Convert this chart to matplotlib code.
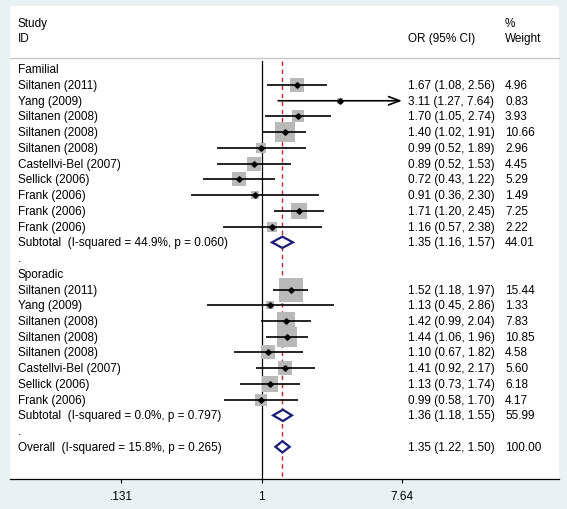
import matplotlib
matplotlib.use('Agg')
import matplotlib.pyplot as plt
import numpy as np
from matplotlib.patches import Polygon
from matplotlib.transforms import blended_transform_factory

plt.rcParams['font.family'] = ['Liberation Sans', 'DejaVu Sans']

# ---------------- data ----------------
fam_studies = ["Siltanen (2011)", "Yang (2009)", "Siltanen (2008)", "Siltanen (2008)",
               "Siltanen (2008)", "Castellvi-Bel (2007)", "Sellick (2006)",
               "Frank (2006)", "Frank (2006)", "Frank (2006)"]
fam_or = [1.67, 3.11, 1.70, 1.40, 0.99, 0.89, 0.72, 0.91, 1.71, 1.16]
fam_lo = [1.08, 1.27, 1.05, 1.02, 0.52, 0.52, 0.43, 0.36, 1.20, 0.57]
fam_hi = [2.56, 7.64, 2.74, 1.91, 1.89, 1.53, 1.22, 2.30, 2.45, 2.38]
fam_w = [4.96, 0.83, 3.93, 10.66, 2.96, 4.45, 5.29, 1.49, 7.25, 2.22]

spo_studies = ["Siltanen (2011)", "Yang (2009)", "Siltanen (2008)", "Siltanen (2008)",
               "Siltanen (2008)", "Castellvi-Bel (2007)", "Sellick (2006)", "Frank (2006)"]
spo_or = [1.52, 1.13, 1.42, 1.44, 1.10, 1.41, 1.13, 0.99]
spo_lo = [1.18, 0.45, 0.99, 1.06, 0.67, 0.92, 0.73, 0.58]
spo_hi = [1.97, 2.86, 2.04, 1.96, 1.82, 2.17, 1.74, 1.70]
spo_w = [15.44, 1.33, 7.83, 10.85, 4.58, 5.60, 6.18, 4.17]

pooled_labels = ["Subtotal  (I-squared = 44.9%, p = 0.060)",
                 "Subtotal  (I-squared = 0.0%, p = 0.797)",
                 "Overall  (I-squared = 15.8%, p = 0.265)"]
pooled_or = [1.35, 1.36, 1.35]
pooled_lo = [1.16, 1.18, 1.22]
pooled_hi = [1.57, 1.55, 1.50]
pooled_w = [44.01, 55.99, 100.00]

group_names = ["Familial", "Sporadic"]
xticks = [0.131, 1, 7.64]
xtick_labels = [".131", "1", "7.64"]
overall_line = 1.35
axis_max = 7.64

# ---------------- layout (pixels) ----------------
W, H = 567, 510
panel_l, panel_r, panel_t, panel_b = 10, 559, 7, 480
x1_px, px_per_ln = 261.7, 69.0
row0_px, row_step = 70.3, 15.73

def ypx(p):
    return (p - row0_px) / row_step

fig = plt.figure(figsize=(W / 100, H / 100), dpi=100)
fig.patch.set_facecolor('#e8f1f3')
ax = fig.add_axes([panel_l / W, 1 - panel_b / H, (panel_r - panel_l) / W, (panel_b - panel_t) / H])
ax.set_facecolor('white')
ax.set_xscale('log')
ax.set_xlim(np.exp((panel_l - x1_px) / px_per_ln), np.exp((panel_r - x1_px) / px_per_ln))
ax.set_ylim(ypx(panel_b), ypx(panel_t))

for s in ['left', 'right', 'top']:
    ax.spines[s].set_visible(False)
ax.spines['bottom'].set_linewidth(0.9)
ax.set_yticks([])
ax.set_xticks(xticks)
ax.set_xticklabels(xtick_labels)
ax.minorticks_off()
ax.tick_params(axis='x', direction='out', length=3, width=0.8, pad=5, labelsize=8.5)

tr = blended_transform_factory(ax.transAxes, ax.transData)
def xf(p):
    return (p - panel_l) / (panel_r - panel_l)

FS = 8.5
col_txt, col_or, col_w = xf(18), xf(408), xf(505)

# headers
ax.text(col_txt, ypx(24.3), "Study", transform=tr, va='center', fontsize=FS)
ax.text(col_txt, ypx(39.3), "ID", transform=tr, va='center', fontsize=FS)
ax.text(col_or, ypx(39.3), "OR (95% CI)", transform=tr, va='center', fontsize=FS)
ax.text(col_w, ypx(24.3), "%", transform=tr, va='center', fontsize=FS)
ax.text(col_w, ypx(39.3), "Weight", transform=tr, va='center', fontsize=FS)
ax.plot([0, 1], [ypx(59), ypx(59)], transform=tr, color='#c8c8c8', lw=1.0, clip_on=False)

# vertical reference lines
ytop = ypx(62)
ax.plot([1, 1], [ytop, ypx(panel_b)], color='black', lw=0.9, zorder=1)
ax.plot([overall_line, overall_line], [ytop, ypx(panel_b)], color='#c0282d', lw=1.0,
        linestyle=(0, (3.2, 2.6)), zorder=1)

def draw_study(y, name, o, lo, hi, w):
    ax.text(col_txt, y, name, transform=tr, va='center', fontsize=FS)
    ax.text(col_or, y, f"{o:.2f} ({lo:.2f}, {hi:.2f})", transform=tr, va='center', fontsize=FS)
    ax.text(col_w, y, f"{w:.2f}", transform=tr, va='center', fontsize=FS)
    ax.scatter([o], [y], marker='s', s=20.5 * w, color='#b9b9b9', linewidths=0, zorder=2)
    if hi >= axis_max:
        ax.annotate('', xy=(hi, y), xytext=(lo, y),
                    arrowprops=dict(arrowstyle='->,head_length=0.8,head_width=0.3',
                                    color='black', lw=1.2, shrinkA=0, shrinkB=0,
                                    mutation_scale=10), zorder=3)
    else:
        ax.plot([lo, hi], [y, y], color='black', lw=1.2, zorder=3, solid_capstyle='butt')
    ax.plot([o], [y], marker='D', ms=2.8, color='black', zorder=4)

def draw_pooled(y, label, o, lo, hi, w):
    ax.text(col_txt, y, label, transform=tr, va='center', fontsize=FS)
    ax.text(col_or, y, f"{o:.2f} ({lo:.2f}, {hi:.2f})", transform=tr, va='center', fontsize=FS)
    ax.text(col_w, y, f"{w:.2f}", transform=tr, va='center', fontsize=FS)
    hh = 0.36
    poly = Polygon([(lo, y), (o, y - hh), (hi, y), (o, y + hh)], closed=True,
                   facecolor='white', edgecolor='#1c1c7c', lw=1.6, zorder=5)
    ax.add_patch(poly)

row = 0
groups = [(fam_studies, fam_or, fam_lo, fam_hi, fam_w),
          (spo_studies, spo_or, spo_lo, spo_hi, spo_w)]
for gi, (names, ors, los, his, ws) in enumerate(groups):
    ax.text(col_txt, row, group_names[gi], transform=tr, va='center', fontsize=FS)
    row += 1
    for n, o, lo, hi, w in zip(names, ors, los, his, ws):
        draw_study(row, n, o, lo, hi, w)
        row += 1
    draw_pooled(row, pooled_labels[gi], pooled_or[gi], pooled_lo[gi], pooled_hi[gi], pooled_w[gi])
    row += 1
    ax.text(col_txt, row, ".", transform=tr, va='center', fontsize=FS)
    row += 1
draw_pooled(row, pooled_labels[2], pooled_or[2], pooled_lo[2], pooled_hi[2], pooled_w[2])

fig.savefig('out.png', dpi=100, facecolor=fig.get_facecolor())
